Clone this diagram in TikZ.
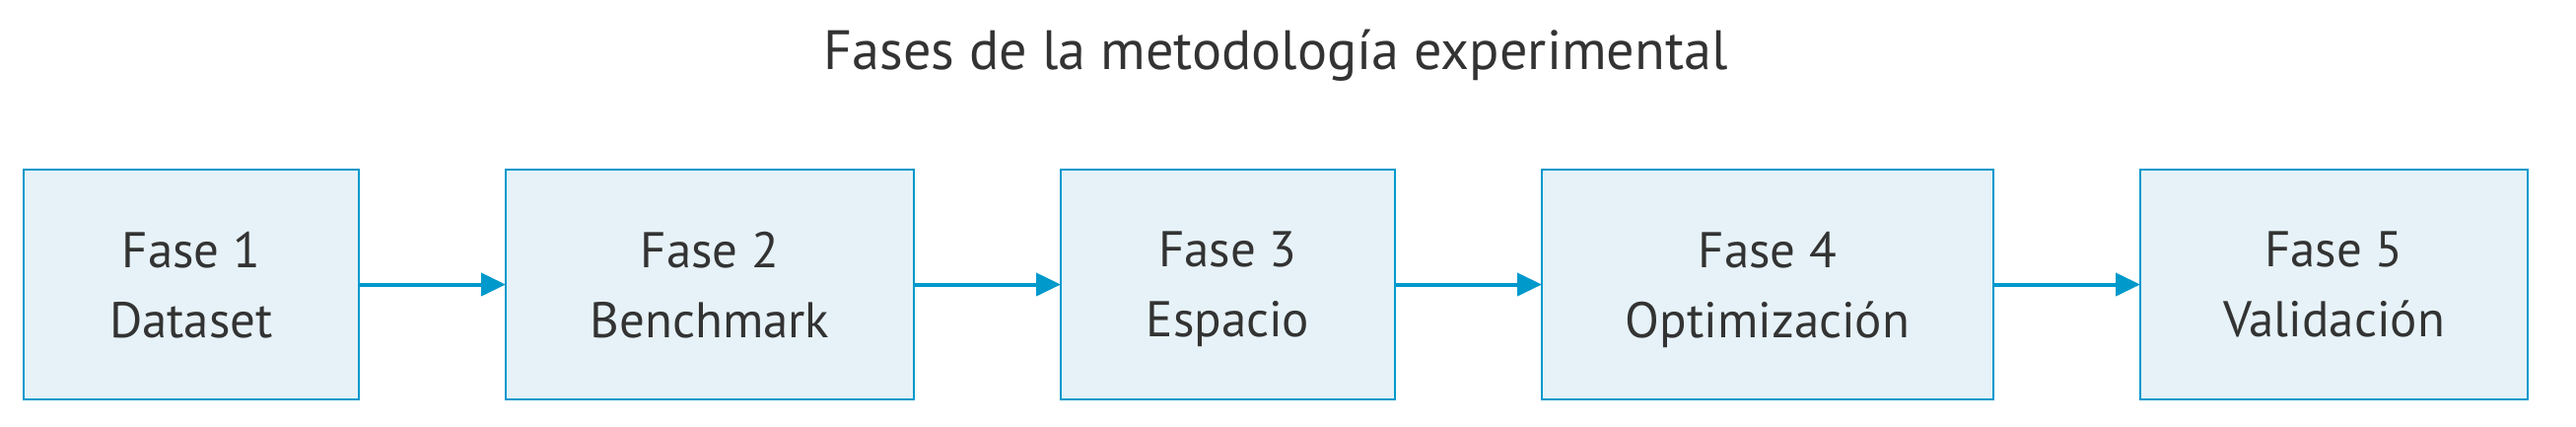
\documentclass[tikz,border=0pt]{standalone}
\usepackage{fontspec}
\setmainfont{PT Sans}
\usepackage{xcolor}
\usetikzlibrary{positioning,arrows.meta}
\definecolor{azul}{HTML}{0099CC}
\definecolor{fondo}{HTML}{E6F2F8}
\definecolor{texto}{HTML}{333333}
\begin{document}
\begin{tikzpicture}[font=\fontsize{14.5}{20.2}\selectfont, text=texto,
    fase/.style={rectangle, draw=azul, fill=fondo, line width=0.025cm, outer sep=0pt,
      minimum height=2.33cm, align=center, text depth=0pt},
    flecha/.style={draw=azul, line width=0.04cm, -{Triangle[length=0.25cm,width=0.23cm]}}]
      \useasboundingbox (0,0) rectangle (26.13,-4.32);
      \node[name=titulo, font=\fontsize{16}{20}\selectfont] at (12.94,-0.56) {Fases de la metodología experimental};
      \node[fase, name=f1, minimum width=3.40cm] at (1.94,-2.885) {Fase 1\\Dataset};
      \node[fase, name=f2, right=1.49cm of f1, minimum width=4.14cm] {Fase 2\\Benchmark};
      \node[fase, name=f3, right=1.49cm of f2, minimum width=3.39cm] {Fase 3\\Espacio};
      \node[fase, name=f4, right=1.49cm of f3, minimum width=4.58cm] {Fase 4\\Optimización};
      \node[fase, name=f5, right=1.49cm of f4, minimum width=3.93cm] {Fase 5\\Validación};

      \path
         (f1) edge[flecha] (f2)
         (f2) edge[flecha] (f3)
         (f3) edge[flecha] (f4)
         (f4) edge[flecha] (f5);
   \end{tikzpicture}
\end{document}
